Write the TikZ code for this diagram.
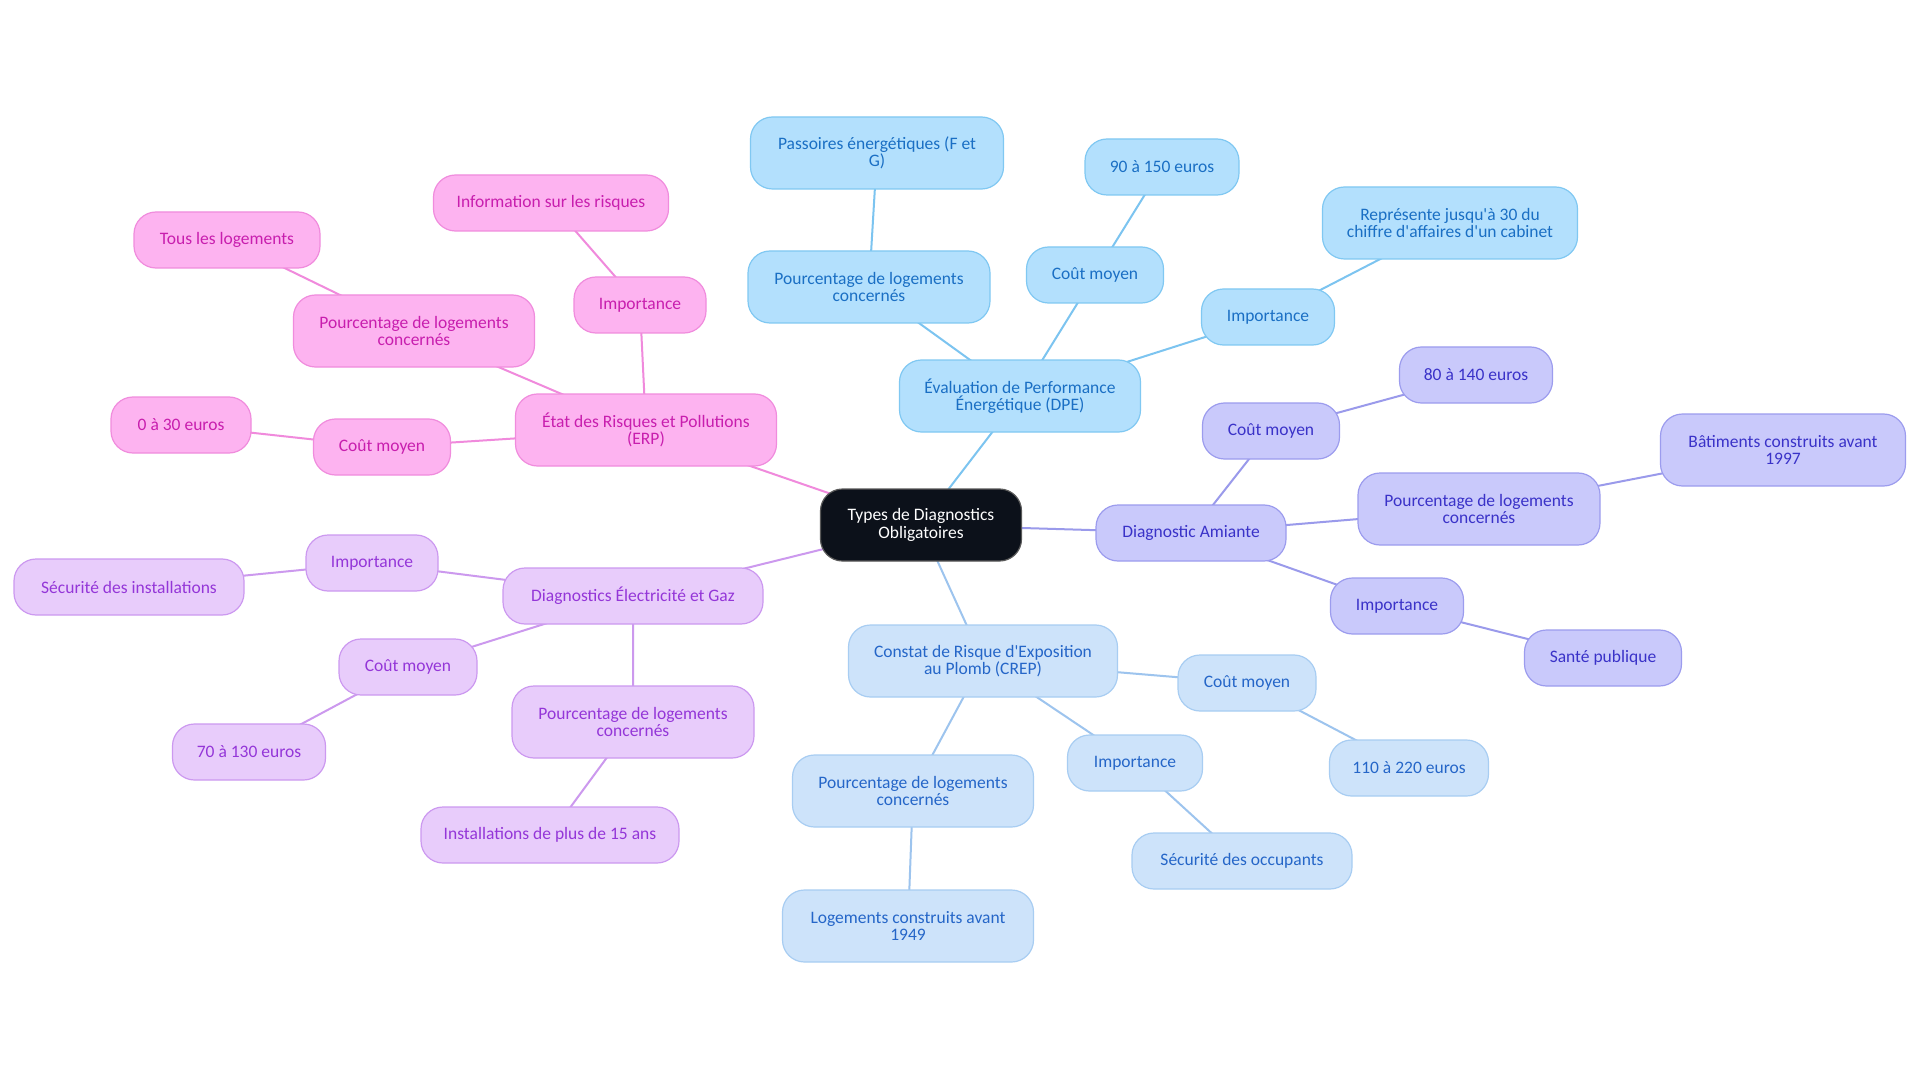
\documentclass[tikz,border=0pt]{standalone}
\usepackage{fontspec}
\setmainfont{Carlito}[Ligatures=TeXOff]
\pgfdeclarelayer{back}
\pgfdeclarelayer{bg}
\pgfsetlayers{back,bg,main}
\definecolor{dpeF}{HTML}{B3E0FD}\definecolor{dpeD}{HTML}{80C8F2}\definecolor{dpeT}{HTML}{1A6FC4}\definecolor{dpeL}{HTML}{7CC4F0}
\definecolor{amiF}{HTML}{C9C9FB}\definecolor{amiD}{HTML}{9C9CEE}\definecolor{amiT}{HTML}{3A32C8}\definecolor{amiL}{HTML}{9A9AEB}
\definecolor{crepF}{HTML}{CDE3FA}\definecolor{crepD}{HTML}{A8CDF2}\definecolor{crepT}{HTML}{2566C8}\definecolor{crepL}{HTML}{9DC4EE}
\definecolor{erpF}{HTML}{FDB3F0}\definecolor{erpD}{HTML}{F08CDD}\definecolor{erpT}{HTML}{C81EAE}\definecolor{erpL}{HTML}{F08ADC}
\definecolor{elecF}{HTML}{E8CCFB}\definecolor{elecD}{HTML}{CC99F0}\definecolor{elecT}{HTML}{9436D8}\definecolor{elecL}{HTML}{CC99EE}
\definecolor{rootF}{HTML}{0C111A}
\begin{document}
\begin{tikzpicture}[x=1pt,y=-1pt,
  box/.style={rounded corners=22pt, align=center, inner sep=2pt, line width=1.2pt,
    font=\fontsize{17.5}{17.5}\selectfont, minimum height=56pt},
  two/.style={minimum height=72pt},
  w/.style={minimum width=#1pt},
  dpe/.style={box, fill=dpeF, draw=dpeD, text=dpeT},
  ami/.style={box, fill=amiF, draw=amiD, text=amiT},
  crep/.style={box, fill=crepF, draw=crepD, text=crepT},
  erp/.style={box, fill=erpF, draw=erpD, text=erpT},
  elec/.style={box, fill=elecF, draw=elecD, text=elecT},
  rootbox/.style={box, fill=rootF, draw=gray!70!black, text=white},
  link/.style={line width=2pt}]
\begin{pgfonlayer}{back}
\fill[white] (0,0) rectangle (1920,1083);
\end{pgfonlayer}
\useasboundingbox (0,0) rectangle (1920,1083);

\node[rootbox, two, w=201] (root) at (921,525) {Types de Diagnostics\\Obligatoires};

\node[dpe, two, w=241] (dpe) at (1020,396) {Évaluation de Performance\\Énergétique (DPE)};
\node[dpe, two, w=242] (dpeP) at (869,287) {Pourcentage de logements\\concernés};
\node[dpe, two, w=253] (dpeP1) at (877,153) {Passoires énergétiques (F et\\G)};
\node[dpe, w=137] (dpeC) at (1095,275) {Coût moyen};
\node[dpe, w=154] (dpeC1) at (1162,167) {90 à 150 euros};
\node[dpe, w=133] (dpeI) at (1268,317) {Importance};
\node[dpe, two, w=255] (dpeI1) at (1450,223) {Représente jusqu'à 30 du\\chiffre d'affaires d'un cabinet};

\node[ami, w=190] (ami) at (1191,533) {Diagnostic Amiante};
\node[ami, w=137] (amiC) at (1271,431) {Coût moyen};
\node[ami, w=153] (amiC1) at (1476,375) {80 à 140 euros};
\node[ami, two, w=242] (amiP) at (1479,509) {Pourcentage de logements\\concernés};
\node[ami, two, w=245] (amiP1) at (1783,450) {Bâtiments construits avant\\1997};
\node[ami, w=133] (amiI) at (1397,606) {Importance};
\node[ami, w=157] (amiI1) at (1603,658) {Santé publique};

\node[crep, two, w=269] (crep) at (983,661) {Constat de Risque d'Exposition\\au Plomb (CREP)};
\node[crep, w=138] (crepC) at (1247,683) {Coût moyen};
\node[crep, w=159] (crepC1) at (1409,768) {110 à 220 euros};
\node[crep, w=135] (crepI) at (1135,763) {Importance};
\node[crep, w=220] (crepI1) at (1242,861) {Sécurité des occupants};
\node[crep, two, w=241] (crepP) at (913,791) {Pourcentage de logements\\concernés};
\node[crep, two, w=251] (crepP1) at (908,926) {Logements construits avant\\1949};

\node[erp, two, w=261] (erp) at (646,430) {État des Risques et Pollutions\\(ERP)};
\node[erp, w=132] (erpI) at (640,305) {Importance};
\node[erp, w=235] (erpI1) at (551,203) {Information sur les risques};
\node[erp, two, w=241] (erpP) at (414,331) {Pourcentage de logements\\concernés};
\node[erp, w=186] (erpP1) at (227,240) {Tous les logements};
\node[erp, w=137] (erpC) at (382,447) {Coût moyen};
\node[erp, w=140] (erpC1) at (181,425) {0 à 30 euros};

\node[elec, w=260] (elec) at (633,596) {Diagnostics Électricité et Gaz};
\node[elec, w=132] (elecI) at (372,563) {Importance};
\node[elec, w=230] (elecI1) at (129,587) {Sécurité des installations};
\node[elec, w=138] (elecC) at (408,667) {Coût moyen};
\node[elec, w=153] (elecC1) at (249,752) {70 à 130 euros};
\node[elec, two, w=242] (elecP) at (633,722) {Pourcentage de logements\\concernés};
\node[elec, w=258] (elecP1) at (550,835) {Installations de plus de 15 ans};

\begin{pgfonlayer}{bg}
\draw[link, dpeL] (root.center) -- (dpe.center)
  (dpe.center) -- (dpeP.center) (dpeP.center) -- (dpeP1.center)
  (dpe.center) -- (dpeC.center) (dpeC.center) -- (dpeC1.center)
  (dpe.center) -- (dpeI.center) (dpeI.center) -- (dpeI1.center);
\draw[link, amiL] (root.center) -- (ami.center)
  (ami.center) -- (amiC.center) (amiC.center) -- (amiC1.center)
  (ami.center) -- (amiP.center) (amiP.center) -- (amiP1.center)
  (ami.center) -- (amiI.center) (amiI.center) -- (amiI1.center);
\draw[link, crepL] (root.center) -- (crep.center)
  (crep.center) -- (crepC.center) (crepC.center) -- (crepC1.center)
  (crep.center) -- (crepI.center) (crepI.center) -- (crepI1.center)
  (crep.center) -- (crepP.center) (crepP.center) -- (crepP1.center);
\draw[link, erpL] (root.center) -- (erp.center)
  (erp.center) -- (erpI.center) (erpI.center) -- (erpI1.center)
  (erp.center) -- (erpP.center) (erpP.center) -- (erpP1.center)
  (erp.center) -- (erpC.center) (erpC.center) -- (erpC1.center);
\draw[link, elecL] (root.center) -- (elec.center)
  (elec.center) -- (elecI.center) (elecI.center) -- (elecI1.center)
  (elec.center) -- (elecC.center) (elecC.center) -- (elecC1.center)
  (elec.center) -- (elecP.center) (elecP.center) -- (elecP1.center);
\end{pgfonlayer}
\end{tikzpicture}
\end{document}
